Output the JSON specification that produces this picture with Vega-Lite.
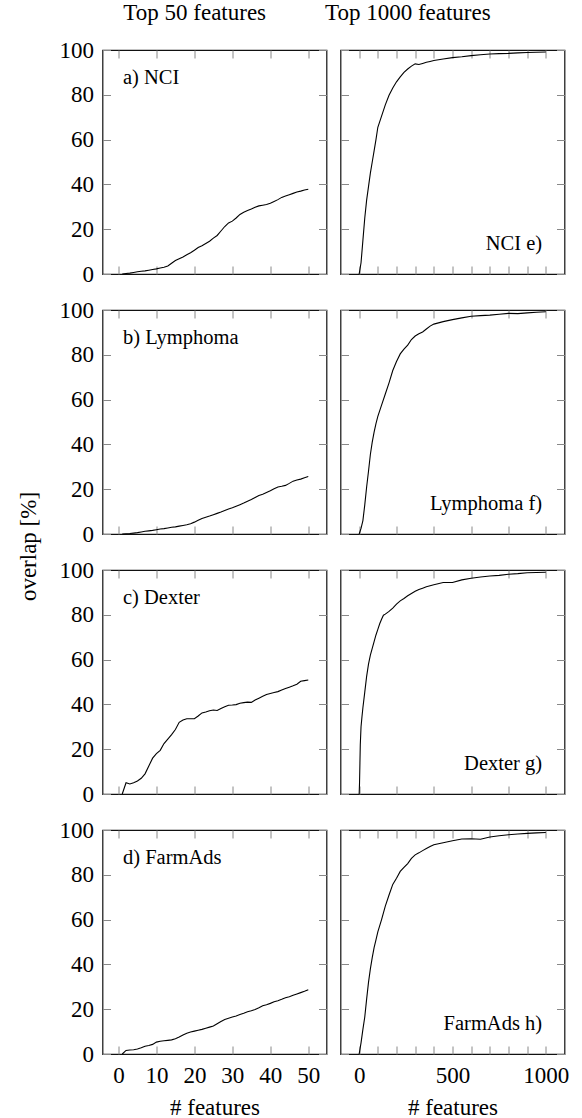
{
 "$schema": "https://vega.github.io/schema/vega-lite/v6.json",
 "padding": {"left": 16.5, "top": 0, "right": 5, "bottom": 0},
 "background": "white",
 "datasets": {
  "nci50": [{"x":1,"y":0},{"x":2,"y":0.2},{"x":3,"y":0.4},{"x":4,"y":0.7},{"x":5,"y":1.0},{"x":6,"y":1.2},{"x":7,"y":1.4},{"x":8,"y":1.7},{"x":9,"y":2.0},{"x":10,"y":2.3},{"x":11,"y":2.7},{"x":12,"y":3.0},{"x":13,"y":3.6},{"x":14,"y":4.8},{"x":15,"y":6.0},{"x":16,"y":6.8},{"x":17,"y":7.6},{"x":18,"y":8.6},{"x":19,"y":9.5},{"x":20,"y":10.6},{"x":21,"y":11.8},{"x":22,"y":12.6},{"x":23,"y":13.6},{"x":24,"y":14.6},{"x":25,"y":16.0},{"x":26,"y":17.2},{"x":27,"y":19.2},{"x":28,"y":21.2},{"x":29,"y":22.8},{"x":30,"y":23.6},{"x":31,"y":25.0},{"x":32,"y":26.6},{"x":33,"y":27.6},{"x":34,"y":28.3},{"x":35,"y":29.0},{"x":36,"y":29.8},{"x":37,"y":30.4},{"x":38,"y":30.7},{"x":39,"y":31.0},{"x":40,"y":31.6},{"x":41,"y":32.4},{"x":42,"y":33.2},{"x":43,"y":34.2},{"x":44,"y":34.8},{"x":45,"y":35.4},{"x":46,"y":36.0},{"x":47,"y":36.6},{"x":48,"y":37.0},{"x":49,"y":37.5},{"x":50,"y":37.8}],
  "lym50": [{"x":1,"y":0},{"x":2,"y":0.1},{"x":3,"y":0.2},{"x":4,"y":0.4},{"x":5,"y":0.6},{"x":6,"y":0.9},{"x":7,"y":1.2},{"x":8,"y":1.4},{"x":9,"y":1.6},{"x":10,"y":1.9},{"x":11,"y":2.2},{"x":12,"y":2.4},{"x":13,"y":2.7},{"x":14,"y":3.0},{"x":15,"y":3.2},{"x":16,"y":3.5},{"x":17,"y":3.8},{"x":18,"y":4.1},{"x":19,"y":4.6},{"x":20,"y":5.3},{"x":21,"y":6.1},{"x":22,"y":6.9},{"x":23,"y":7.5},{"x":24,"y":8.0},{"x":25,"y":8.6},{"x":26,"y":9.2},{"x":27,"y":9.8},{"x":28,"y":10.5},{"x":29,"y":11.2},{"x":30,"y":11.7},{"x":31,"y":12.4},{"x":32,"y":13.1},{"x":33,"y":13.8},{"x":34,"y":14.6},{"x":35,"y":15.4},{"x":36,"y":16.3},{"x":37,"y":17.2},{"x":38,"y":17.7},{"x":39,"y":18.5},{"x":40,"y":19.3},{"x":41,"y":20.2},{"x":42,"y":21.0},{"x":43,"y":21.3},{"x":44,"y":21.7},{"x":45,"y":22.6},{"x":46,"y":23.6},{"x":47,"y":24.1},{"x":48,"y":24.5},{"x":49,"y":25.1},{"x":50,"y":25.7}],
  "dex50": [{"x":1,"y":0},{"x":2,"y":5.0},{"x":3,"y":4.5},{"x":4,"y":5.0},{"x":5,"y":5.8},{"x":6,"y":7.0},{"x":7,"y":9.0},{"x":8,"y":12.5},{"x":9,"y":16.0},{"x":10,"y":18.0},{"x":11,"y":19.5},{"x":12,"y":22.5},{"x":13,"y":24.5},{"x":14,"y":26.5},{"x":15,"y":28.8},{"x":16,"y":32.0},{"x":17,"y":33.0},{"x":18,"y":33.6},{"x":19,"y":33.6},{"x":20,"y":33.6},{"x":21,"y":34.8},{"x":22,"y":36.2},{"x":23,"y":36.6},{"x":24,"y":37.2},{"x":25,"y":37.5},{"x":26,"y":37.3},{"x":27,"y":38.2},{"x":28,"y":39.0},{"x":29,"y":39.6},{"x":30,"y":39.7},{"x":31,"y":39.9},{"x":32,"y":40.5},{"x":33,"y":40.8},{"x":34,"y":41.0},{"x":35,"y":40.9},{"x":36,"y":42.0},{"x":37,"y":42.8},{"x":38,"y":43.6},{"x":39,"y":44.4},{"x":40,"y":44.9},{"x":41,"y":45.3},{"x":42,"y":45.7},{"x":43,"y":46.4},{"x":44,"y":47.1},{"x":45,"y":47.7},{"x":46,"y":48.3},{"x":47,"y":49.0},{"x":48,"y":50.3},{"x":49,"y":50.6},{"x":50,"y":50.9}],
  "farm50": [{"x":1,"y":0},{"x":2,"y":1.6},{"x":3,"y":1.8},{"x":4,"y":1.9},{"x":5,"y":2.2},{"x":6,"y":2.8},{"x":7,"y":3.5},{"x":8,"y":3.8},{"x":9,"y":4.3},{"x":10,"y":5.3},{"x":11,"y":5.7},{"x":12,"y":5.9},{"x":13,"y":6.1},{"x":14,"y":6.3},{"x":15,"y":6.8},{"x":16,"y":7.6},{"x":17,"y":8.5},{"x":18,"y":9.3},{"x":19,"y":9.8},{"x":20,"y":10.2},{"x":21,"y":10.6},{"x":22,"y":11.0},{"x":23,"y":11.5},{"x":24,"y":12.0},{"x":25,"y":12.5},{"x":26,"y":13.5},{"x":27,"y":14.5},{"x":28,"y":15.4},{"x":29,"y":16.0},{"x":30,"y":16.5},{"x":31,"y":17.0},{"x":32,"y":17.6},{"x":33,"y":18.2},{"x":34,"y":18.9},{"x":35,"y":19.3},{"x":36,"y":19.9},{"x":37,"y":20.6},{"x":38,"y":21.5},{"x":39,"y":22.0},{"x":40,"y":22.6},{"x":41,"y":23.3},{"x":42,"y":23.8},{"x":43,"y":24.4},{"x":44,"y":25.1},{"x":45,"y":25.6},{"x":46,"y":26.2},{"x":47,"y":26.8},{"x":48,"y":27.4},{"x":49,"y":28.0},{"x":50,"y":28.7}],
  "nci1000": [{"x":0,"y":0},{"x":10,"y":5},{"x":20,"y":15},{"x":30,"y":25},{"x":40,"y":33},{"x":50,"y":39},{"x":60,"y":45},{"x":70,"y":50},{"x":80,"y":55},{"x":90,"y":60},{"x":100,"y":65.5},{"x":120,"y":70.5},{"x":140,"y":75.5},{"x":160,"y":79.8},{"x":180,"y":83},{"x":200,"y":85.8},{"x":220,"y":88},{"x":240,"y":90},{"x":260,"y":91.5},{"x":280,"y":92.8},{"x":300,"y":93.8},{"x":320,"y":93.5},{"x":340,"y":94.0},{"x":360,"y":94.5},{"x":380,"y":94.9},{"x":400,"y":95.3},{"x":450,"y":96.0},{"x":500,"y":96.6},{"x":550,"y":97.0},{"x":600,"y":97.5},{"x":650,"y":97.9},{"x":700,"y":98.2},{"x":750,"y":98.4},{"x":800,"y":98.5},{"x":850,"y":98.7},{"x":900,"y":98.9},{"x":950,"y":99.0},{"x":1000,"y":99.1}],
  "lym1000": [{"x":0,"y":0},{"x":10,"y":2.5},{"x":20,"y":6},{"x":30,"y":13},{"x":40,"y":21},{"x":50,"y":28},{"x":60,"y":35.5},{"x":70,"y":41},{"x":80,"y":45.5},{"x":90,"y":49.3},{"x":100,"y":52.5},{"x":120,"y":57.5},{"x":140,"y":62.5},{"x":160,"y":67.5},{"x":180,"y":73},{"x":200,"y":77},{"x":220,"y":80.4},{"x":240,"y":82.5},{"x":260,"y":84.3},{"x":280,"y":86.8},{"x":300,"y":88.4},{"x":320,"y":89.4},{"x":340,"y":90.2},{"x":360,"y":91.5},{"x":380,"y":92.8},{"x":400,"y":93.7},{"x":450,"y":94.8},{"x":500,"y":95.7},{"x":550,"y":96.5},{"x":600,"y":97.2},{"x":650,"y":97.5},{"x":700,"y":97.7},{"x":750,"y":98.1},{"x":800,"y":98.5},{"x":850,"y":98.4},{"x":900,"y":98.7},{"x":950,"y":99.0},{"x":1000,"y":99.2}],
  "dex1000": [{"x":0,"y":0},{"x":2,"y":5},{"x":6,"y":22},{"x":10,"y":30},{"x":15,"y":34.5},{"x":20,"y":38.5},{"x":30,"y":45.5},{"x":40,"y":52.5},{"x":50,"y":58},{"x":60,"y":62},{"x":70,"y":65},{"x":80,"y":68},{"x":90,"y":71},{"x":100,"y":73.5},{"x":110,"y":76},{"x":120,"y":78},{"x":130,"y":79.8},{"x":140,"y":80.3},{"x":160,"y":81.5},{"x":180,"y":83},{"x":200,"y":84.8},{"x":220,"y":86.2},{"x":240,"y":87.3},{"x":260,"y":88.5},{"x":280,"y":89.5},{"x":300,"y":90.5},{"x":320,"y":91.3},{"x":340,"y":91.9},{"x":360,"y":92.5},{"x":380,"y":93},{"x":400,"y":93.4},{"x":450,"y":94.4},{"x":500,"y":94.4},{"x":550,"y":95.6},{"x":600,"y":96.3},{"x":650,"y":96.9},{"x":700,"y":97.3},{"x":750,"y":97.6},{"x":800,"y":98.1},{"x":850,"y":98.4},{"x":900,"y":98.8},{"x":950,"y":98.9},{"x":1000,"y":99.0}],
  "farm1000": [{"x":0,"y":0},{"x":10,"y":5},{"x":20,"y":11},{"x":30,"y":16.5},{"x":40,"y":24.5},{"x":50,"y":32},{"x":60,"y":38},{"x":70,"y":43},{"x":80,"y":47.5},{"x":90,"y":51},{"x":100,"y":54.5},{"x":120,"y":60},{"x":140,"y":66},{"x":160,"y":71},{"x":180,"y":75.7},{"x":200,"y":78.5},{"x":220,"y":81.5},{"x":240,"y":83.3},{"x":260,"y":85},{"x":280,"y":87.3},{"x":300,"y":88.9},{"x":320,"y":89.8},{"x":340,"y":90.8},{"x":360,"y":91.7},{"x":380,"y":92.6},{"x":400,"y":93.4},{"x":450,"y":94.3},{"x":500,"y":95.2},{"x":550,"y":96},{"x":600,"y":96.1},{"x":650,"y":95.9},{"x":700,"y":96.9},{"x":750,"y":97.4},{"x":800,"y":97.9},{"x":850,"y":98.2},{"x":900,"y":98.5},{"x":950,"y":98.7},{"x":1000,"y":98.9}]
 },
 "columns": 2,
 "spacing": {"row": 36, "column": 14},
 "bounds": "flush",
 "concat": [
  {"width":224,"height":224,
   "layer":[
    {"data":{"name":"nci50"},"mark":{"type":"line","color":"black","strokeWidth":1.1},
     "encoding":{"x":{"field":"x","type":"quantitative","scale":{"domain":[-4.2,54.8],"nice":false,"zero":false},"axis":{"values":[0,10,20,30,40,50],"labels":false,"title":null}},
                 "y":{"field":"y","type":"quantitative","scale":{"domain":[0,100],"nice":false},"axis":{"values":[0,20,40,60,80,100],"title":null}}}},
    {"data":{"values":[{}]},"mark":{"type":"text","align":"left","baseline":"alphabetic","fontSize":20.5,"font":"Liberation Serif"},
     "encoding":{"x":{"datum":1.2,"type":"quantitative","axis":{"orient":"top","values":[0],"grid":false,"labels":false,"title":"Top 50 features","titleX":91.7,"titleY":-30.8,"titleAlign":"center","titleBaseline":"alphabetic","titleAngle":0}},
                 "y":{"datum":84.8,"type":"quantitative"},
                 "text":{"value":"a) NCI"}}}
   ],
   "resolve":{"axis":{"x":"independent"}}},
  {"width":224,"height":224,
   "layer":[
    {"data":{"name":"nci1000"},"mark":{"type":"line","color":"black","strokeWidth":1.1},
     "encoding":{"x":{"field":"x","type":"quantitative","scale":{"domain":[-100,1100],"nice":false,"zero":false},"axis":{"values":[0,100,200,300,400,500,600,700,800,900,1000],"labels":false,"title":null}},
                 "y":{"field":"y","type":"quantitative","scale":{"domain":[0,100],"nice":false},"axis":{"values":[0,20,40,60,80,100],"labels":false,"title":null}}}},
    {"data":{"values":[{}]},"mark":{"type":"text","align":"right","baseline":"alphabetic","fontSize":20.5,"font":"Liberation Serif"},
     "encoding":{"x":{"datum":980,"type":"quantitative","axis":{"orient":"top","values":[0],"grid":false,"labels":false,"title":"Top 1000 features","titleX":66.8,"titleY":-30.8,"titleAlign":"center","titleBaseline":"alphabetic","titleAngle":0}},
                 "y":{"datum":10.5,"type":"quantitative"},
                 "text":{"value":"NCI e)"}}}
   ],
   "resolve":{"axis":{"x":"independent"}}},
  {"width":224,"height":224,
   "layer":[
    {"data":{"name":"lym50"},"mark":{"type":"line","color":"black","strokeWidth":1.1},
     "encoding":{"x":{"field":"x","type":"quantitative","scale":{"domain":[-4.2,54.8],"nice":false,"zero":false},"axis":{"values":[0,10,20,30,40,50],"labels":false,"title":null}},
                 "y":{"field":"y","type":"quantitative","scale":{"domain":[0,100],"nice":false},"axis":{"values":[0,20,40,60,80,100],"title":"overlap [%]","titleX":-74,"titleY":236,"titleAngle":-90,"titleAlign":"center","titleBaseline":"middle"}}}},
    {"data":{"values":[{}]},"mark":{"type":"text","align":"left","baseline":"alphabetic","fontSize":20.5,"font":"Liberation Serif"},
     "encoding":{"x":{"datum":1.2,"type":"quantitative"},"y":{"datum":84.8,"type":"quantitative"},"text":{"value":"b) Lymphoma"}}}
   ]},
  {"width":224,"height":224,
   "layer":[
    {"data":{"name":"lym1000"},"mark":{"type":"line","color":"black","strokeWidth":1.1},
     "encoding":{"x":{"field":"x","type":"quantitative","scale":{"domain":[-100,1100],"nice":false,"zero":false},"axis":{"values":[0,100,200,300,400,500,600,700,800,900,1000],"labels":false,"title":null}},
                 "y":{"field":"y","type":"quantitative","scale":{"domain":[0,100],"nice":false},"axis":{"values":[0,20,40,60,80,100],"labels":false,"title":null}}}},
    {"data":{"values":[{}]},"mark":{"type":"text","align":"right","baseline":"alphabetic","fontSize":20.5,"font":"Liberation Serif"},
     "encoding":{"x":{"datum":980,"type":"quantitative"},"y":{"datum":10.5,"type":"quantitative"},"text":{"value":"Lymphoma f)"}}}
   ]},
  {"width":224,"height":224,
   "layer":[
    {"data":{"name":"dex50"},"mark":{"type":"line","color":"black","strokeWidth":1.1},
     "encoding":{"x":{"field":"x","type":"quantitative","scale":{"domain":[-4.2,54.8],"nice":false,"zero":false},"axis":{"values":[0,10,20,30,40,50],"labels":false,"title":null}},
                 "y":{"field":"y","type":"quantitative","scale":{"domain":[0,100],"nice":false},"axis":{"values":[0,20,40,60,80,100],"title":null}}}},
    {"data":{"values":[{}]},"mark":{"type":"text","align":"left","baseline":"alphabetic","fontSize":20.5,"font":"Liberation Serif"},
     "encoding":{"x":{"datum":1.2,"type":"quantitative"},"y":{"datum":84.8,"type":"quantitative"},"text":{"value":"c) Dexter"}}}
   ]},
  {"width":224,"height":224,
   "layer":[
    {"data":{"name":"dex1000"},"mark":{"type":"line","color":"black","strokeWidth":1.1},
     "encoding":{"x":{"field":"x","type":"quantitative","scale":{"domain":[-100,1100],"nice":false,"zero":false},"axis":{"values":[0,100,200,300,400,500,600,700,800,900,1000],"labels":false,"title":null}},
                 "y":{"field":"y","type":"quantitative","scale":{"domain":[0,100],"nice":false},"axis":{"values":[0,20,40,60,80,100],"labels":false,"title":null}}}},
    {"data":{"values":[{}]},"mark":{"type":"text","align":"right","baseline":"alphabetic","fontSize":20.5,"font":"Liberation Serif"},
     "encoding":{"x":{"datum":980,"type":"quantitative"},"y":{"datum":10.5,"type":"quantitative"},"text":{"value":"Dexter g)"}}}
   ]},
  {"width":224,"height":224,
   "layer":[
    {"data":{"name":"farm50"},"mark":{"type":"line","color":"black","strokeWidth":1.1},
     "encoding":{"x":{"field":"x","type":"quantitative","scale":{"domain":[-4.2,54.8],"nice":false,"zero":false},"axis":{"values":[0,10,20,30,40,50],"labelPadding":10,"labelOverlap":false,"title":"# features","titleY":60,"titleBaseline":"alphabetic"}},
                 "y":{"field":"y","type":"quantitative","scale":{"domain":[0,100],"nice":false},"axis":{"values":[0,20,40,60,80,100],"title":null}}}},
    {"data":{"values":[{}]},"mark":{"type":"text","align":"left","baseline":"alphabetic","fontSize":20.5,"font":"Liberation Serif"},
     "encoding":{"x":{"datum":1.2,"type":"quantitative"},"y":{"datum":84.8,"type":"quantitative"},"text":{"value":"d) FarmAds"}}}
   ]},
  {"width":224,"height":224,
   "layer":[
    {"data":{"name":"farm1000"},"mark":{"type":"line","color":"black","strokeWidth":1.1},
     "encoding":{"x":{"field":"x","type":"quantitative","scale":{"domain":[-100,1100],"nice":false,"zero":false},"axis":{"values":[0,500,1000],"format":"d","grid":false,"labelOverlap":false,"labelFlush":false,"labelPadding":10,"title":"# features","titleY":60,"titleBaseline":"alphabetic"}},
                 "y":{"field":"y","type":"quantitative","scale":{"domain":[0,100],"nice":false},"axis":{"values":[0,20,40,60,80,100],"labels":false,"title":null}}}},
    {"data":{"values":[{}]},"mark":{"type":"text","align":"right","baseline":"alphabetic","fontSize":20.5,"font":"Liberation Serif"},
     "encoding":{"x":{"datum":980,"type":"quantitative","axis":{"orient":"bottom","values":[0,100,200,300,400,500,600,700,800,900,1000],"grid":true,"gridColor":"#888","gridDash":[8,208,8,0],"labels":false,"title":null}},"y":{"datum":10.5,"type":"quantitative"},"text":{"value":"FarmAds h)"}}}
   ],
   "resolve":{"axis":{"x":"independent"}}}
 ],
 "config": {
  "font": "Liberation Serif",
  "view": {"stroke": "#111", "strokeWidth": 1.2},
  "axis": {"grid": true, "gridColor": "#888", "gridWidth": 1, "gridOpacity": 1, "gridDash": [8, 208, 8, 0], "domain": false, "ticks": false, "labelPadding": 9, "labelFont": "Liberation Serif", "labelFontSize": 23, "labelColor": "black", "titleFont": "Liberation Serif", "titleFontSize": 23, "titleColor": "black", "titleFontWeight": "normal"}
 }
}
